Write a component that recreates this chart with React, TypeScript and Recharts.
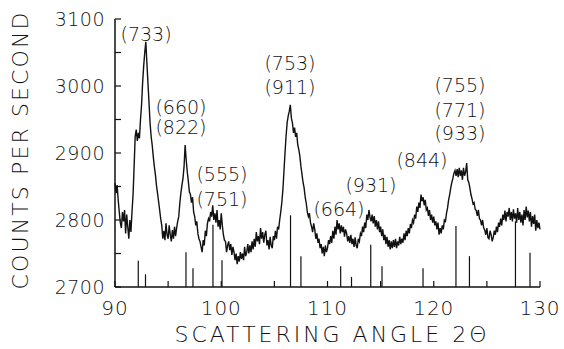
import { LineChart, Line, XAxis, YAxis, ReferenceLine, ReferenceDot } from "recharts";

// scattering angle 2θ (deg), one reading every 0.1 deg
const angles = [
  90.0, 90.1, 90.2, 90.3, 90.4, 90.5, 90.6, 90.7, 90.8, 90.9, 91.0, 91.1, 91.2, 91.3, 91.4, 91.5, 91.6, 91.7, 91.8, 91.9,
  92.0, 92.1, 92.2, 92.3, 92.4, 92.5, 92.6, 92.7, 92.8, 92.9, 93.0, 93.1, 93.2, 93.3, 93.4, 93.5, 93.6, 93.7, 93.8, 93.9,
  94.0, 94.1, 94.2, 94.3, 94.4, 94.5, 94.6, 94.7, 94.8, 94.9, 95.0, 95.1, 95.2, 95.3, 95.4, 95.5, 95.6, 95.7, 95.8, 95.9,
  96.0, 96.1, 96.2, 96.3, 96.4, 96.5, 96.6, 96.7, 96.8, 96.9, 97.0, 97.1, 97.2, 97.3, 97.4, 97.5, 97.6, 97.7, 97.8, 97.9,
  98.0, 98.1, 98.2, 98.3, 98.4, 98.5, 98.6, 98.7, 98.8, 98.9, 99.0, 99.1, 99.2, 99.3, 99.4, 99.5, 99.6, 99.7, 99.8, 99.9,
  100.0, 100.1, 100.2, 100.3, 100.4, 100.5, 100.6, 100.7, 100.8, 100.9, 101.0, 101.1, 101.2, 101.3, 101.4, 101.5, 101.6, 101.7, 101.8, 101.9,
  102.0, 102.1, 102.2, 102.3, 102.4, 102.5, 102.6, 102.7, 102.8, 102.9, 103.0, 103.1, 103.2, 103.3, 103.4, 103.5, 103.6, 103.7, 103.8, 103.9,
  104.0, 104.1, 104.2, 104.3, 104.4, 104.5, 104.6, 104.7, 104.8, 104.9, 105.0, 105.1, 105.2, 105.3, 105.4, 105.5, 105.6, 105.7, 105.8, 105.9,
  106.0, 106.1, 106.2, 106.3, 106.4, 106.5, 106.6, 106.7, 106.8, 106.9, 107.0, 107.1, 107.2, 107.3, 107.4, 107.5, 107.6, 107.7, 107.8, 107.9,
  108.0, 108.1, 108.2, 108.3, 108.4, 108.5, 108.6, 108.7, 108.8, 108.9, 109.0, 109.1, 109.2, 109.3, 109.4, 109.5, 109.6, 109.7, 109.8, 109.9,
  110.0, 110.1, 110.2, 110.3, 110.4, 110.5, 110.6, 110.7, 110.8, 110.9, 111.0, 111.1, 111.2, 111.3, 111.4, 111.5, 111.6, 111.7, 111.8, 111.9,
  112.0, 112.1, 112.2, 112.3, 112.4, 112.5, 112.6, 112.7, 112.8, 112.9, 113.0, 113.1, 113.2, 113.3, 113.4, 113.5, 113.6, 113.7, 113.8, 113.9,
  114.0, 114.1, 114.2, 114.3, 114.4, 114.5, 114.6, 114.7, 114.8, 114.9, 115.0, 115.1, 115.2, 115.3, 115.4, 115.5, 115.6, 115.7, 115.8, 115.9,
  116.0, 116.1, 116.2, 116.3, 116.4, 116.5, 116.6, 116.7, 116.8, 116.9, 117.0, 117.1, 117.2, 117.3, 117.4, 117.5, 117.6, 117.7, 117.8, 117.9,
  118.0, 118.1, 118.2, 118.3, 118.4, 118.5, 118.6, 118.7, 118.8, 118.9, 119.0, 119.1, 119.2, 119.3, 119.4, 119.5, 119.6, 119.7, 119.8, 119.9,
  120.0, 120.1, 120.2, 120.3, 120.4, 120.5, 120.6, 120.7, 120.8, 120.9, 121.0, 121.1, 121.2, 121.3, 121.4, 121.5, 121.6, 121.7, 121.8, 121.9,
  122.0, 122.1, 122.2, 122.3, 122.4, 122.5, 122.6, 122.7, 122.8, 122.9, 123.0, 123.1, 123.2, 123.3, 123.4, 123.5, 123.6, 123.7, 123.8, 123.9,
  124.0, 124.1, 124.2, 124.3, 124.4, 124.5, 124.6, 124.7, 124.8, 124.9, 125.0, 125.1, 125.2, 125.3, 125.4, 125.5, 125.6, 125.7, 125.8, 125.9,
  126.0, 126.1, 126.2, 126.3, 126.4, 126.5, 126.6, 126.7, 126.8, 126.9, 127.0, 127.1, 127.2, 127.3, 127.4, 127.5, 127.6, 127.7, 127.8, 127.9,
  128.0, 128.1, 128.2, 128.3, 128.4, 128.5, 128.6, 128.7, 128.8, 128.9, 129.0, 129.1, 129.2, 129.3, 129.4, 129.5, 129.6, 129.7, 129.8, 129.9,
  130.0,
];

// counts per second
const counts = [
  2855, 2840, 2852, 2830, 2812, 2796, 2788, 2812, 2798, 2815, 2780, 2808, 2790, 2772, 2800, 2782, 2812, 2838, 2880, 2925,
  2935, 2918, 2930, 2922, 2950, 2972, 3005, 3030, 3050, 3066, 3035, 3005, 2975, 2945, 2925, 2912, 2895, 2880, 2868, 2852,
  2840, 2828, 2815, 2802, 2792, 2772, 2784, 2770, 2795, 2778, 2772, 2792, 2778, 2768, 2785, 2772, 2790, 2776, 2788, 2798,
  2805, 2825, 2840, 2852, 2862, 2880, 2912, 2890, 2872, 2858, 2842, 2838, 2826, 2834, 2812, 2805, 2792, 2798, 2780, 2772,
  2768, 2760, 2752, 2770, 2762, 2784, 2776, 2795, 2802, 2798, 2812, 2805, 2822, 2800, 2810, 2796, 2815, 2790, 2800, 2786,
  2810, 2792, 2778, 2770, 2768, 2752, 2762, 2768, 2755, 2764, 2748, 2760, 2752, 2740, 2750, 2734, 2746, 2738, 2752, 2742,
  2750, 2740, 2760, 2746, 2752, 2764, 2750, 2762, 2752, 2768, 2756, 2772, 2760, 2782, 2768, 2776, 2764, 2788, 2772, 2782,
  2766, 2778, 2784, 2762, 2770, 2756, 2775, 2762, 2758, 2776, 2770, 2784, 2772, 2790, 2786, 2800, 2812, 2826, 2845, 2872,
  2900, 2925, 2945, 2955, 2962, 2972, 2952, 2945, 2930, 2938, 2924, 2930, 2912, 2905, 2895, 2880, 2868, 2856, 2848, 2834,
  2825, 2812, 2805, 2810, 2796, 2790, 2782, 2795, 2786, 2772, 2780, 2766, 2772, 2758, 2764, 2750, 2760, 2746, 2762, 2752,
  2758, 2770, 2764, 2776, 2766, 2784, 2772, 2790, 2778, 2800, 2786, 2795, 2780, 2792, 2782, 2790, 2775, 2786, 2780, 2768,
  2776, 2766, 2778, 2764, 2772, 2760, 2774, 2762, 2758, 2772, 2768, 2780, 2776, 2790, 2782, 2796, 2788, 2808, 2800, 2815,
  2804, 2798, 2808, 2795, 2806, 2790, 2800, 2786, 2798, 2782, 2790, 2776, 2786, 2770, 2778, 2764, 2775, 2760, 2770, 2756,
  2768, 2758, 2770, 2760, 2772, 2758, 2768, 2762, 2775, 2764, 2772, 2766, 2780, 2770, 2784, 2776, 2788, 2780, 2794, 2788,
  2800, 2796, 2808, 2802, 2820, 2812, 2826, 2818, 2838, 2828, 2834, 2822, 2830, 2815, 2818, 2806, 2815, 2800, 2808, 2796,
  2805, 2792, 2798, 2786, 2796, 2778, 2788, 2780, 2792, 2786, 2800, 2798, 2810, 2818, 2830, 2838, 2848, 2856, 2862, 2870,
  2874, 2866, 2876, 2864, 2878, 2866, 2874, 2860, 2878, 2866, 2872, 2885, 2860, 2856, 2848, 2838, 2832, 2824, 2826, 2816,
  2814, 2806, 2815, 2802, 2800, 2792, 2800, 2788, 2785, 2778, 2788, 2774, 2772, 2784, 2778, 2768, 2774, 2784, 2778, 2790,
  2782, 2796, 2790, 2802, 2792, 2808, 2800, 2814, 2798, 2812, 2805, 2818, 2800, 2812, 2798, 2816, 2802, 2810, 2796, 2818,
  2800, 2812, 2796, 2808, 2792, 2815, 2800, 2820, 2804, 2814, 2798, 2812, 2790, 2806, 2794, 2808, 2784, 2800, 2788, 2796,
  2786,
];

// calculated reflection positions (sticks rising from the baseline)
const stickAngles = [
  92.19, 92.87, 96.68, 97.34, 99.22, 100.07, 106.52, 107.5, 111.24,
  112.26, 114.07, 115.13, 118.99, 122.09, 123.36, 127.69, 129.06,
];
const stickTops = [
  2739, 2719, 2752, 2728, 2793, 2740, 2807, 2746, 2731,
  2715, 2763, 2731, 2728, 2791, 2746, 2798, 2751,
];

// Miller index labels
const peakLabels = [
  "(733)", "(660)", "(822)", "(555)", "(751)", "(753)", "(911)",
  "(664)", "(931)", "(844)", "(755)", "(771)", "(933)",
];
const labelAngles = [
  92.92, 96.21, 96.21, 100.07, 100.07, 106.47, 106.47,
  111.08, 114.09, 118.89, 122.47, 122.47, 122.47,
];
const labelCounts = [
  3078, 2969, 2939, 2869, 2831, 3034, 2999,
  2816, 2852, 2890, 3002, 2964, 2930,
];

const xTicks = [90, 95, 100, 105, 110, 115, 120, 125, 130];
const yTicks = [2700, 2750, 2800, 2850, 2900, 2950, 3000, 3050, 3100];

const data = angles.map((a, i) => ({ angle: a, counts: counts[i] }));

const FONT = '"DejaVu Sans", sans-serif';
const INK = "#111";

const BottomTick = ({ x, y, payload }: any) => (
  <g>
    <line x1={x} y1={y} x2={x} y2={y - 6} stroke={INK} strokeWidth={1.2} />
    {payload.value % 10 === 0 && (
      <text x={x} y={y + 28} textAnchor="middle" fontFamily={FONT} fontWeight={200}
        fontSize={20} fill={INK} letterSpacing={1}>
        {payload.value}
      </text>
    )}
  </g>
);

const TopTick = ({ x, y }: any) => (
  <line x1={x} y1={y} x2={x} y2={y + 6} stroke={INK} strokeWidth={1.2} />
);

const LeftTick = ({ x, y, payload }: any) => (
  <g>
    <line x1={x} y1={y} x2={x + 6} y2={y} stroke={INK} strokeWidth={1.2} />
    {payload.value % 100 === 0 && (
      <text x={x - 10} y={y + 7} textAnchor="end" fontFamily={FONT} fontWeight={200}
        fontSize={19} fill={INK} letterSpacing={0.5}>
        {payload.value}
      </text>
    )}
  </g>
);

const RightTick = ({ x, y }: any) => (
  <line x1={x} y1={y} x2={x - 6} y2={y} stroke={INK} strokeWidth={1.2} />
);

const PeakText = (text: string) => (p: any) => (
  <text x={p.cx} y={p.cy + 7} textAnchor="middle" fontFamily={FONT} fontWeight={200}
    fontSize={19} fill={INK}>
    {text}
  </text>
);

const axisLine = { stroke: INK, strokeWidth: 1.5 };

export default function App() {
  return (
    <div style={{ position: "absolute", left: 0, top: 0, width: 564, height: 349, background: "#fff" }}>
      <LineChart width={564} height={349} data={data}
        margin={{ top: 19, right: 24, bottom: 0, left: 0 }}>
        <XAxis dataKey="angle" type="number" domain={[90, 130]} ticks={xTicks}
          height={62} tickSize={0} tickMargin={0} tickLine={false} axisLine={axisLine}
          tick={<BottomTick />} interval={0}
          label={{
            content: (p: any) => {
              const vb = p.viewBox;
              return (
                <text x={vb.x + vb.width / 2 + 3} y={vb.y + 55} textAnchor="middle"
                  fontFamily={FONT} fontWeight={200} fontSize={22} fill={INK}
                  textLength={312} lengthAdjust="spacing">
                  SCATTERING ANGLE 2Θ
                </text>
              );
            },
          }} />
        <XAxis xAxisId="top" orientation="top" dataKey="angle" type="number" domain={[90, 130]}
          ticks={xTicks} height={0} tickSize={0} tickMargin={0} tickLine={false}
          axisLine={axisLine} tick={<TopTick />} interval={0} />
        <YAxis type="number" domain={[2700, 3100]} ticks={yTicks} width={115}
          tickSize={0} tickMargin={0} tickLine={false} axisLine={axisLine}
          tick={<LeftTick />} interval={0}
          label={{
            content: (p: any) => {
              const vb = p.viewBox;
              const cx = vb.x + 28;
              const cy = vb.y + vb.height / 2 - 2;
              return (
                <text x={cx} y={cy} transform={`rotate(-90 ${cx} ${cy})`} textAnchor="middle"
                  fontFamily={FONT} fontWeight={200} fontSize={22} fill={INK}
                  textLength={277} lengthAdjust="spacing">
                  COUNTS PER SECOND
                </text>
              );
            },
          }} />
        <YAxis yAxisId="right" orientation="right" type="number" domain={[2700, 3100]}
          ticks={yTicks} width={0} tickSize={0} tickMargin={0} tickLine={false}
          axisLine={axisLine} tick={<RightTick />} interval={0} />
        {stickAngles.map((a, i) => (
          <ReferenceLine key={`s${i}`} segment={[{ x: a, y: 2700 }, { x: a, y: stickTops[i] }]}
            stroke={INK} strokeWidth={1.2} />
        ))}
        <Line type="linear" dataKey="counts" stroke={INK} strokeWidth={1.4} dot={false}
          isAnimationActive={false} />
        {peakLabels.map((t, i) => (
          <ReferenceDot key={`l${i}`} x={labelAngles[i]} y={labelCounts[i]} r={0}
            shape={PeakText(t)} />
        ))}
      </LineChart>
    </div>
  );
}
